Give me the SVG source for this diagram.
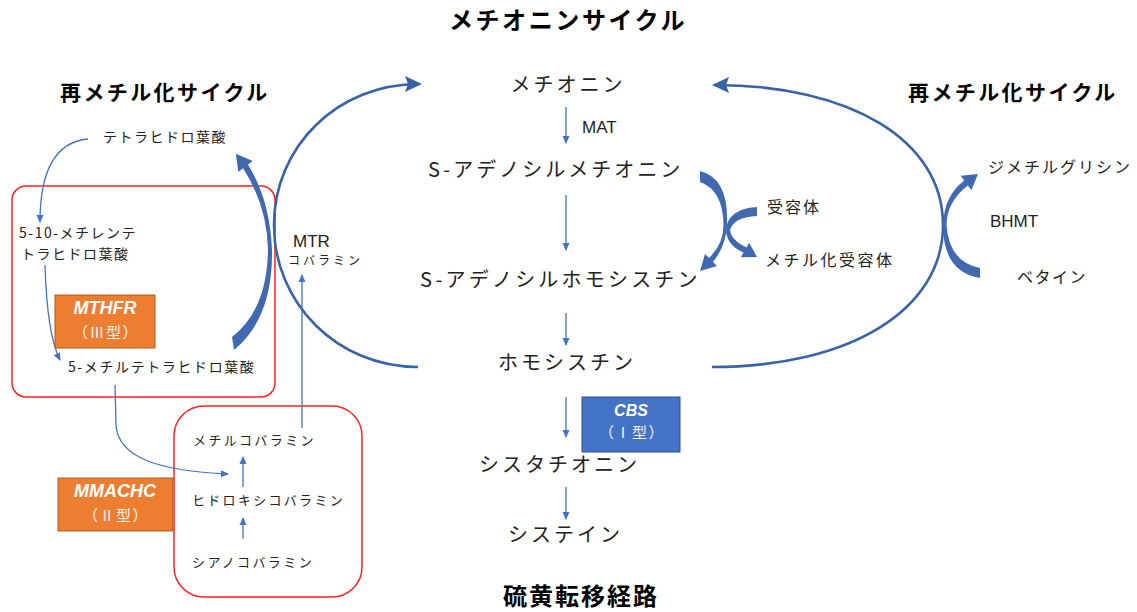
<svg xmlns="http://www.w3.org/2000/svg" width="1137" height="612" viewBox="0 0 1137 612">
<style>
.jp{font-family:"Noto Sans CJK JP","Noto Sans",sans-serif;fill:#222}
.big{font-size:20px;letter-spacing:3px}
.sm{font-size:14px;letter-spacing:1.5px}
.xs{font-size:13px;letter-spacing:2.4px}
.md{font-size:16px;letter-spacing:2px}
.hd{font-size:21px;font-weight:bold;letter-spacing:2.4px;fill:#000}
.lat{font-family:"Liberation Sans",Arial,sans-serif;fill:#222}
.thin{fill:none;stroke:#4472C4;stroke-width:1.3}
.arc{fill:none;stroke:#3A62A8;stroke-width:2.6}
.blk{fill:#4169B2}
.red{fill:none;stroke:#FF2020;stroke-width:1.5}
.bx1{fill:#ED7D31;stroke:#B05A20;stroke-width:1}
.bx2{fill:#4472C4;stroke:#2F528F;stroke-width:1}
.bt{font-family:"Liberation Sans",Arial,sans-serif;font-weight:bold;font-style:italic;fill:#fff;text-anchor:middle}
.bj{font-family:"Noto Sans CJK JP",sans-serif;fill:#f4f4f4;text-anchor:middle;font-size:15px;letter-spacing:1.5px}
</style>
<defs>
<marker id="ah" markerWidth="8" markerHeight="8" refX="7" refY="4" orient="auto" markerUnits="userSpaceOnUse">
<path d="M0,0.5 L8,4 L0,7.5 Z" fill="#4472C4"/>
</marker>
<marker id="bh" markerWidth="17" markerHeight="16" refX="14" refY="8" orient="auto" markerUnits="userSpaceOnUse">
<path d="M0,0 L17,8 L0,16 L3,8 Z" fill="#3A62A8"/>
</marker>
</defs>

<g id="titles">
<text class="jp" x="568" y="29" text-anchor="middle" style="font-size:24px;font-weight:bold;letter-spacing:2.6px;fill:#000">メチオニンサイクル</text>
<text class="jp hd" x="60" y="100">再メチル化サイクル</text>
<text class="jp hd" x="908" y="100">再メチル化サイクル</text>
<text class="jp" x="581" y="605" text-anchor="middle" style="font-size:24px;font-weight:bold;letter-spacing:2px;fill:#000">硫黄転移経路</text>
</g>

<g id="frames">
<rect class="red" x="12" y="186" width="263" height="211" rx="14"/>
<rect class="red" x="174" y="406" width="188" height="191" rx="30"/>
</g>

<g id="connectors">
<path class="arc" d="M418,367 C337,367 274,303 274,225 C274,147 337,84 419,84" marker-end="url(#bh)"/>
<path class="arc" d="M712,367 C850,367 943,310 943,225 C943,140 850,85 715,85" marker-end="url(#bh)"/>
<path class="blk" d="M700,171 Q729,178 727,225 Q726,246 713,262 L717,266 L700,271 L705,254 L709,258 Q723.5,244 723.5,225 Q723,190 700,182 Z"/>
<path class="blk" d="M757,207 Q726,209 726,232 Q728,246 743.5,252.5 L740.8,257.2 L757,257 L749.2,242.8 L746.5,247.5 Q731,240 730,230 Q734,217 757,216 Z"/>
<path class="blk" d="M980,278 Q943,272 943,225 Q944,196 964.2,180.6 L960.6,175.8 L978,174 L971.4,190.2 L967.8,185.4 Q946.5,202 946.5,225 Q949,262 980,268 Z"/>
<path class="blk" d="M234,350 Q273,318 272,250 Q270,200 248,164.7 L252.7,161.1 L235.9,153.7 L238.3,171.9 L243,168.3 Q267,205 268,250 Q267,310 232,337 Z"/>
<line class="thin" x1="566" y1="107" x2="566" y2="143" marker-end="url(#ah)"/>
<line class="thin" x1="566" y1="195" x2="566" y2="250" marker-end="url(#ah)"/>
<line class="thin" x1="566" y1="313" x2="566" y2="345" marker-end="url(#ah)"/>
<line class="thin" x1="566" y1="397" x2="566" y2="437" marker-end="url(#ah)"/>
<line class="thin" x1="566" y1="487" x2="566" y2="519" marker-end="url(#ah)"/>
<path class="thin" d="M88,139 C55,142 40,172 40,222" marker-end="url(#ah)"/>
<path class="thin" d="M45,265 C46,300 50,340 60,360" marker-end="url(#ah)"/>
<path class="thin" d="M115,385 L116,425 C118,458 160,471 228,474" marker-end="url(#ah)"/>
<line class="thin" x1="243" y1="487" x2="243" y2="457" marker-end="url(#ah)"/>
<line class="thin" x1="243" y1="539" x2="243" y2="518" marker-end="url(#ah)"/>
<line class="thin" x1="302" y1="428" x2="302" y2="275" marker-end="url(#ah)"/>
</g>

<g id="n-met"><text class="jp big" x="568" y="92" text-anchor="middle">メチオニン</text></g>
<g id="n-mat"><text class="lat" x="582" y="133" style="font-size:17px">MAT</text></g>
<g id="n-sam"><text class="jp big" x="428" y="177">S-アデノシルメチオニン</text></g>
<g id="n-sah"><text class="jp big" x="420" y="287" style="letter-spacing:3.2px">S-アデノシルホモシスチン</text></g>
<g id="n-hcy"><text class="jp big" x="498" y="370">ホモシスチン</text></g>
<g id="n-cth"><text class="jp big" x="479" y="472">シスタチオニン</text></g>
<g id="n-cys"><text class="jp big" x="508" y="542">システイン</text></g>
<g id="n-cbs">
<rect class="bx2" x="582" y="397" width="98" height="55"/>
<text class="bt" x="631" y="416" style="font-size:16px">CBS</text>
<text class="bj" x="632" y="438">（Ⅰ型）</text>
</g>
<g id="n-acc">
<text class="jp md" x="767" y="213">受容体</text>
<text class="jp md" x="765" y="266" style="letter-spacing:2.5px">メチル化受容体</text>
</g>
<g id="n-bhmt">
<text class="jp md" x="988" y="173">ジメチルグリシン</text>
<text class="lat" x="990" y="227" style="font-size:17px">BHMT</text>
<text class="jp md" x="1017" y="283" style="letter-spacing:1.5px">ベタイン</text>
</g>
<g id="n-thf"><text class="jp sm" x="103" y="142">テトラヒドロ葉酸</text></g>
<g id="n-mthf">
<text class="jp sm" x="19" y="238">5-10-メチレンテ</text>
<text class="jp sm" x="21" y="259">トラヒドロ葉酸</text>
</g>
<g id="n-mthfr">
<rect class="bx1" x="55" y="295" width="100" height="53"/>
<text class="bt" x="105" y="314" style="font-size:18px">MTHFR</text>
<text class="bj" x="106" y="338">（Ⅲ型）</text>
</g>
<g id="n-5mthf"><text class="jp sm" x="68" y="372" style="letter-spacing:1.6px">5-メチルテトラヒドロ葉酸</text></g>
<g id="n-mtr">
<text class="lat" x="293" y="247" style="font-size:17px">MTR</text>
<text class="jp" x="288" y="265" style="font-size:12px;letter-spacing:3px">コバラミン</text>
</g>
<g id="n-mecbl"><text class="jp xs" x="193" y="445">メチルコバラミン</text></g>
<g id="n-ohcbl"><text class="jp xs" x="192" y="505" style="letter-spacing:2.3px">ヒドロキシコバラミン</text></g>
<g id="n-cncbl"><text class="jp xs" x="192" y="567">シアノコバラミン</text></g>
<g id="n-mmachc">
<rect class="bx1" x="58" y="478" width="115" height="53"/>
<text class="bt" x="115" y="497" style="font-size:18px">MMACHC</text>
<text class="bj" x="116" y="521">（Ⅱ型）</text>
</g>
</svg>
